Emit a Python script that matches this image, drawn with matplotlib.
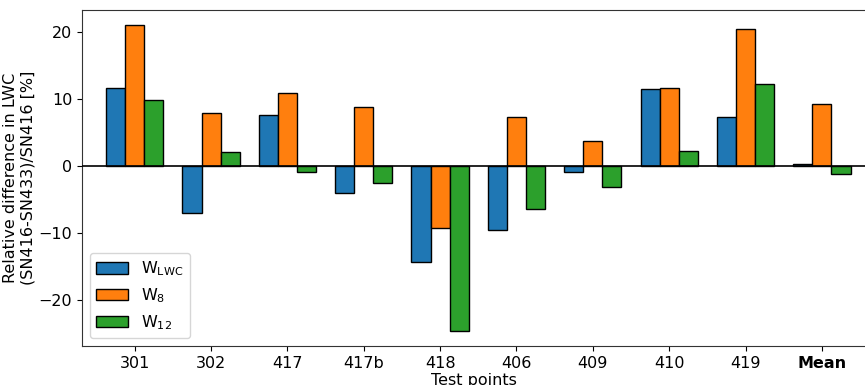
import matplotlib
matplotlib.use("Agg")
import matplotlib.pyplot as plt
import numpy as np

categories = ["301", "302", "417", "417b", "418", "406", "409", "410", "419", "Mean"]
w_lwc = [11.6, -7.0, 7.6, -4.1, -14.4, -9.55, -0.9, 11.5, 7.3, 0.25]
w_8 = [21.0, 7.9, 10.85, 8.75, -9.3, 7.3, 3.7, 11.7, 20.5, 9.2]
w_12 = [9.9, 2.1, -0.9, -2.5, -24.7, -6.4, -3.2, 2.2, 12.2, -1.25]
series_labels = [r"W$_{\rm LWC}$", r"W$_{8}$", r"W$_{12}$"]
colors = ["#1f77b4", "#ff7f0e", "#2ca02c"]

fig = plt.figure(figsize=(8.65, 3.85), dpi=100)
ax = fig.add_axes([82 / 865, 1 - 346 / 385, (866 - 82) / 865, (346 - 10) / 385])

x = np.arange(len(categories))
w = 0.25
for i, (vals, lab, c) in enumerate(zip([w_lwc, w_8, w_12], series_labels, colors)):
    ax.bar(x + (i - 1) * w, vals, width=w, color=c, edgecolor="black", linewidth=1, label=lab, zorder=2)

ax.axhline(0, color="black", linewidth=1.2, zorder=3)
ax.set_xticks(x)
ax.set_xticklabels(categories, fontsize=11.5)
ax.get_xticklabels()[-1].set_fontweight("bold")
ax.tick_params(axis="y", labelsize=11.5)
ax.set_yticks([-20, -10, 0, 10, 20])
ax.set_ylim(-26.9, 23.3)
ax.set_xlim(-0.69, 9.577)
ax.set_xlabel("Test points", fontsize=11.5, labelpad=2)
ax.set_ylabel("Relative difference in LWC\n(SN416-SN433)/SN416 [%]", fontsize=11.5, labelpad=2)
for s in ax.spines.values():
    s.set_color("#333333")
ax.legend(loc="lower left", fontsize=11.5, handlelength=2.0)

fig.savefig("out.png", dpi=100)
